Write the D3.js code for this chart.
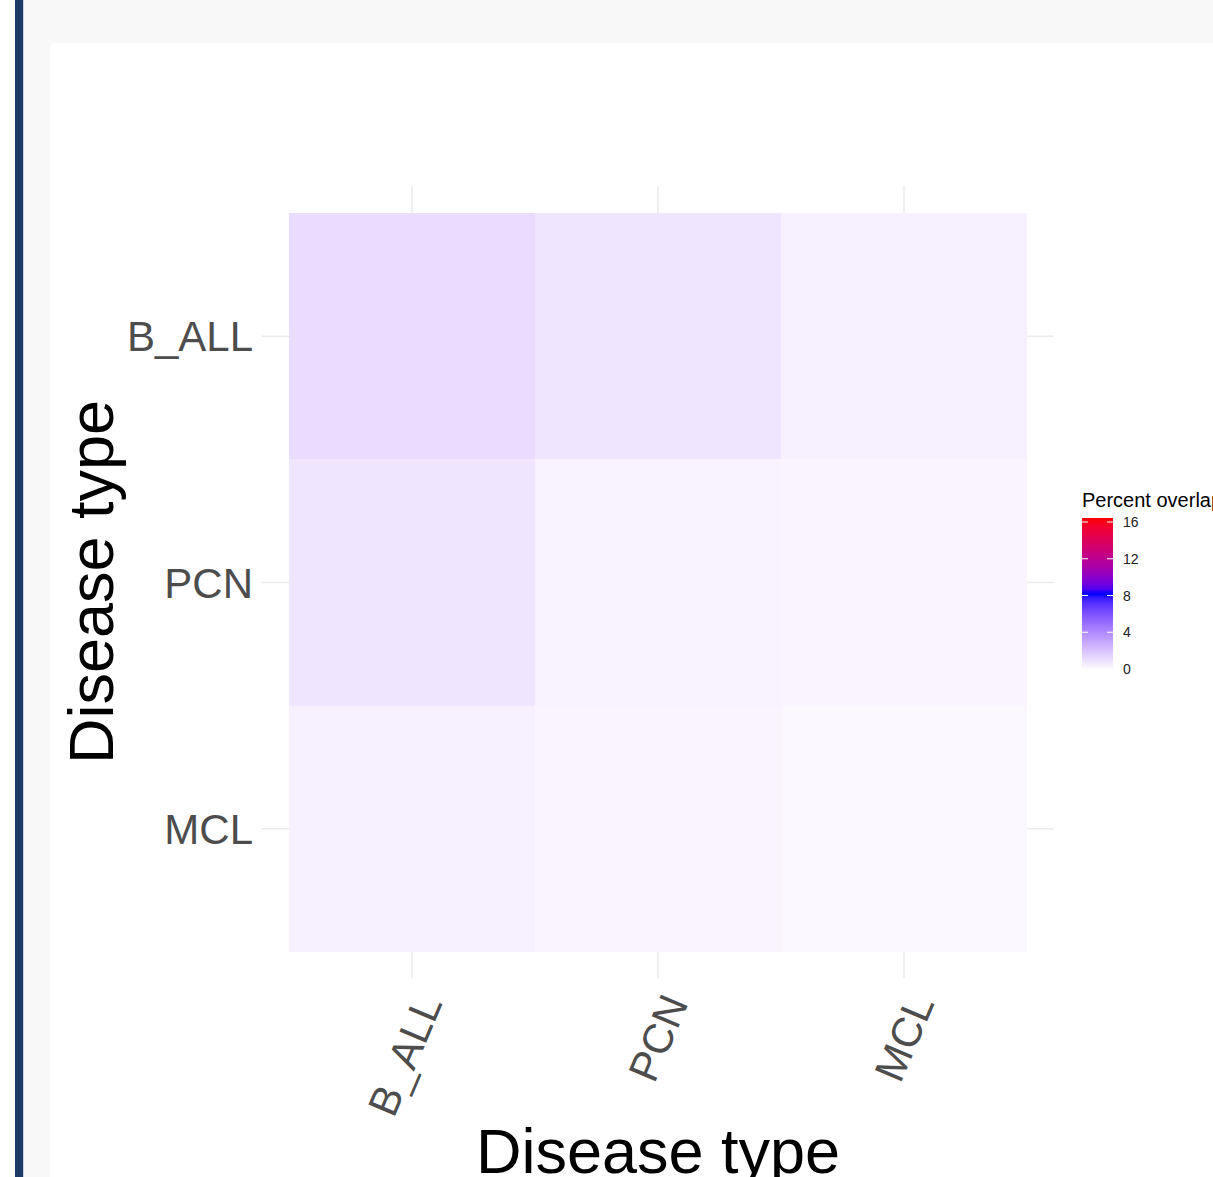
<!DOCTYPE html>
<html>
<head>
<meta charset="utf-8">
<script src="https://cdn.jsdelivr.net/npm/d3@7"></script>
<style>
  body { margin: 0; background: #ffffff; }
  text { font-family: "Liberation Sans", Arial, sans-serif; }
</style>
</head>
<body>
<div id="chart"></div>
<script>
// categories, in plotting order
var diseases = ["B_ALL", "PCN", "MCL"];

// percent overlap, one array per row (y category)
var rowB_ALL = [1.15, 0.85, 0.5];
var rowPCN = [0.85, 0.4, 0.35];
var rowMCL = [0.5, 0.35, 0.25];

var legendTicks = [0, 4, 8, 12, 16];

var svgWidth = 1213;
var svgHeight = 1177;

var svg = d3.select("#chart")
  .append("svg")
  .attr("width", svgWidth)
  .attr("height", svgHeight);

// page chrome
svg.append("rect").attr("x", 0).attr("y", 0).attr("width", svgWidth).attr("height", svgHeight).attr("fill", "#ffffff");
svg.append("rect").attr("x", 23).attr("y", 0).attr("width", svgWidth - 23).attr("height", svgHeight).attr("fill", "#f8f8f8");
svg.append("rect").attr("x", 15).attr("y", 0).attr("width", 8).attr("height", svgHeight).attr("fill", "#1d3a66");
svg.append("rect").attr("x", 23).attr("y", 0).attr("width", 1).attr("height", svgHeight).attr("fill", "#c9d3e3");
svg.append("rect").attr("x", 50).attr("y", 43).attr("width", svgWidth).attr("height", svgHeight).attr("rx", 5).attr("fill", "#ffffff");

var rows = [
  {name: "B_ALL", values: rowB_ALL},
  {name: "PCN", values: rowPCN},
  {name: "MCL", values: rowMCL}
];

var cells = [];
rows.forEach(function(r) {
  r.values.forEach(function(v, i) {
    cells.push({x: diseases[i], y: r.name, value: v});
  });
});

var xScale = d3.scaleBand().domain(diseases).range([289, 1027]).padding(0);
var yScale = d3.scaleBand().domain(diseases).range([213, 952]).padding(0);

var color = d3.scaleLinear()
  .domain([0, 8, 16])
  .range(["#ffffff", "#0000ff", "#ff0000"])
  .interpolate(d3.interpolateLab);

// grid lines (theme_minimal)
var grid = svg.append("g");
diseases.forEach(function(d) {
  var cx = xScale(d) + xScale.bandwidth() / 2;
  grid.append("line")
    .attr("x1", cx).attr("x2", cx)
    .attr("y1", 186).attr("y2", 978)
    .attr("stroke", "#ebebeb").attr("stroke-width", 1.5);
  var cy = yScale(d) + yScale.bandwidth() / 2;
  grid.append("line")
    .attr("x1", 262).attr("x2", 1054)
    .attr("y1", cy).attr("y2", cy)
    .attr("stroke", "#ebebeb").attr("stroke-width", 1.5);
});

// tiles
svg.append("g")
  .selectAll("rect")
  .data(cells)
  .enter()
  .append("rect")
  .attr("x", d => xScale(d.x))
  .attr("y", d => yScale(d.y))
  .attr("width", xScale.bandwidth())
  .attr("height", yScale.bandwidth())
  .attr("fill", d => color(d.value))
  .attr("shape-rendering", "crispEdges");

// y tick labels
svg.append("g")
  .selectAll("text")
  .data(diseases)
  .enter()
  .append("text")
  .attr("x", 253)
  .attr("y", d => yScale(d) + yScale.bandwidth() / 2)
  .attr("dy", "0.36em")
  .attr("text-anchor", "end")
  .attr("font-size", 42)
  .attr("fill", "#4d4d4d")
  .text(d => d);

// x tick labels, rotated
svg.append("g")
  .selectAll("text")
  .data(diseases)
  .enter()
  .append("text")
  .attr("transform", d => `translate(${xScale(d) + xScale.bandwidth() / 2 + 17}, 997) rotate(-67)`)
  .attr("dy", "0.36em")
  .attr("text-anchor", "end")
  .attr("font-size", 42)
  .attr("fill", "#4d4d4d")
  .text(d => d);

// axis titles
svg.append("text")
  .attr("x", 658)
  .attr("y", 1173)
  .attr("text-anchor", "middle")
  .attr("font-size", 63)
  .attr("fill", "#000000")
  .text("Disease type");

svg.append("text")
  .attr("transform", "translate(113, 582) rotate(-90)")
  .attr("text-anchor", "middle")
  .attr("font-size", 63)
  .attr("fill", "#000000")
  .text("Disease type");

// legend
var legendY = d3.scaleLinear().domain([0, 16]).range([669, 522]);

var defs = svg.append("defs");
var grad = defs.append("linearGradient")
  .attr("id", "legendGrad")
  .attr("x1", 0).attr("y1", 1).attr("x2", 0).attr("y2", 0);
d3.range(0, 16.01, 0.5).forEach(function(v) {
  grad.append("stop")
    .attr("offset", v / 16)
    .attr("stop-color", color(v));
});

svg.append("text")
  .attr("x", 1082)
  .attr("y", 507)
  .attr("font-size", 20)
  .attr("fill", "#000000")
  .text("Percent overlap");

svg.append("rect")
  .attr("x", 1082)
  .attr("y", 518)
  .attr("width", 31)
  .attr("height", 152)
  .attr("fill", "url(#legendGrad)");

var lt = svg.append("g");
legendTicks.forEach(function(t) {
  var y = legendY(t);
  lt.append("line").attr("x1", 1082).attr("x2", 1088).attr("y1", y).attr("y2", y)
    .attr("stroke", "#ffffff").attr("stroke-width", 1);
  lt.append("line").attr("x1", 1107).attr("x2", 1113).attr("y1", y).attr("y2", y)
    .attr("stroke", "#ffffff").attr("stroke-width", 1);
  lt.append("text")
    .attr("x", 1123)
    .attr("y", y)
    .attr("dy", "0.36em")
    .attr("font-size", 14)
    .attr("fill", "#222222")
    .text(t);
});
</script>
</body>
</html>
